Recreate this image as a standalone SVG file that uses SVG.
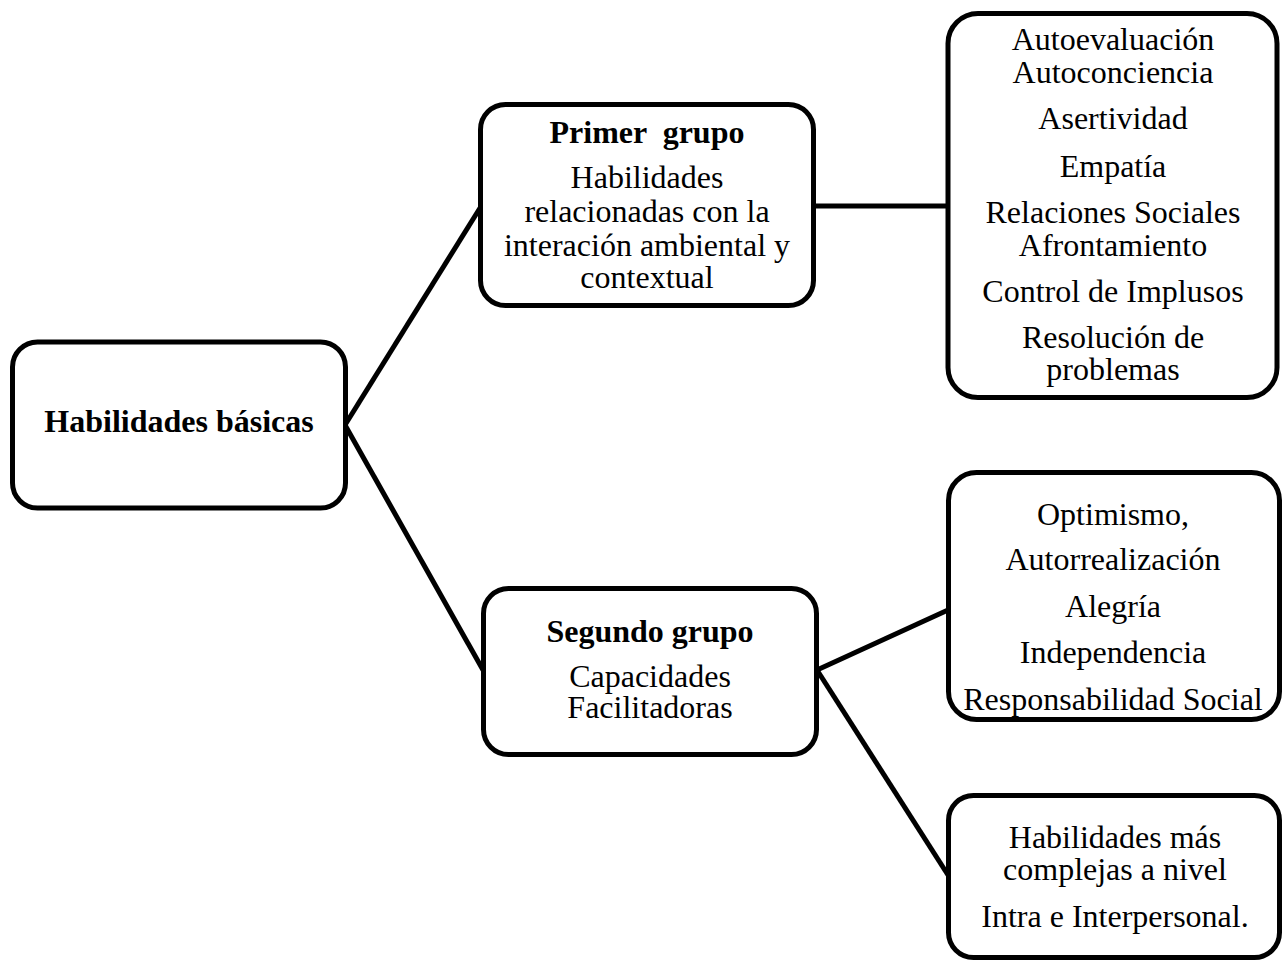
<svg xmlns="http://www.w3.org/2000/svg" width="1283" height="961" viewBox="0 0 1283 961">
  <style>
    .box { fill: #ffffff; stroke: #000000; stroke-width: 5; }
    .link { fill: none; stroke: #000000; stroke-width: 5; stroke-linecap: butt; }
    text { font-family: "Liberation Serif", "Times New Roman", serif; font-size: 32px; fill: #000000; text-anchor: middle; white-space: pre; }
    .b { font-weight: bold; }
  </style>
  <rect width="1283" height="961" fill="#ffffff"/>

  <!-- connectors -->
  <g id="connectors">
    <line class="link" x1="345" y1="425" x2="480" y2="208"/>
    <line class="link" x1="345" y1="425" x2="483" y2="670"/>
    <line class="link" x1="814" y1="206" x2="948" y2="206"/>
    <line class="link" x1="817" y1="670" x2="948" y2="610"/>
    <line class="link" x1="817" y1="670" x2="948" y2="875"/>
  </g>

  <!-- root -->
  <g id="node-basicas">
    <rect class="box" x="12.5" y="342" width="333" height="166" rx="25"/>
    <text class="b" x="179" y="432">Habilidades básicas</text>
  </g>

  <!-- first group -->
  <g id="node-primer-grupo">
    <rect class="box" x="480.5" y="104.5" width="333" height="201" rx="25"/>
    <text class="b" x="647" y="143">Primer  grupo</text>
    <text x="647" y="188">Habilidades</text>
    <text x="647" y="222">relacionadas con la</text>
    <text x="647" y="256">interación ambiental y</text>
    <text x="647" y="288">contextual</text>
  </g>

  <!-- first group skills -->
  <g id="node-lista-primer">
    <rect class="box" x="948" y="13.5" width="329" height="384" rx="30"/>
    <text x="1113" y="50">Autoevaluación</text>
    <text x="1113" y="83">Autoconciencia</text>
    <text x="1113" y="129">Asertividad</text>
    <text x="1113" y="177">Empatía</text>
    <text x="1113" y="223">Relaciones Sociales</text>
    <text x="1113" y="256">Afrontamiento</text>
    <text x="1113" y="302">Control de Implusos</text>
    <text x="1113" y="348">Resolución de</text>
    <text x="1113" y="380">problemas</text>
  </g>

  <!-- second group -->
  <g id="node-segundo-grupo">
    <rect class="box" x="483.5" y="588.5" width="333" height="166" rx="25"/>
    <text class="b" x="650" y="642">Segundo grupo</text>
    <text x="650" y="687">Capacidades</text>
    <text x="650" y="718">Facilitadoras</text>
  </g>

  <!-- second group skills -->
  <g id="node-lista-segundo">
    <rect class="box" x="948.5" y="472.5" width="331" height="247" rx="28"/>
    <text x="1113" y="525">Optimismo,</text>
    <text x="1113" y="570">Autorrealización</text>
    <text x="1113" y="617">Alegría</text>
    <text x="1113" y="663">Independencia</text>
    <text x="1113" y="710">Responsabilidad Social</text>
  </g>

  <!-- complex skills -->
  <g id="node-complejas">
    <rect class="box" x="948.5" y="795.5" width="331" height="162" rx="25"/>
    <text x="1115" y="848">Habilidades más</text>
    <text x="1115" y="880">complejas a nivel</text>
    <text x="1115" y="927">Intra e Interpersonal.</text>
  </g>
</svg>
